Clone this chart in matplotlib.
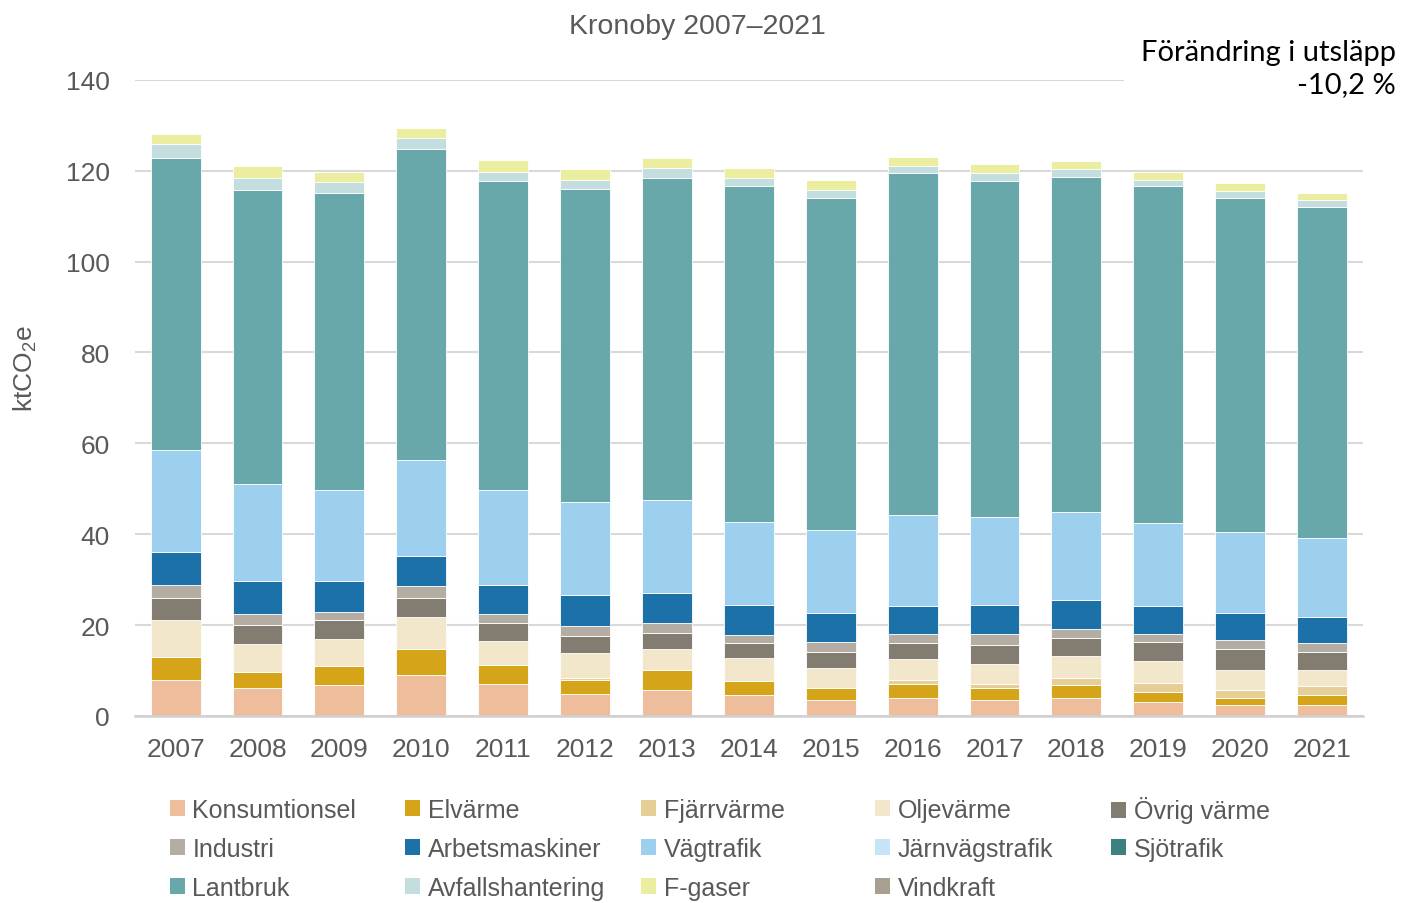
import matplotlib.pyplot as plt
from matplotlib.patches import Patch
import numpy as np

plt.rcParams['font.family'] = ['Liberation Sans', 'DejaVu Sans']
plt.rcParams['mathtext.fontset'] = 'custom'
plt.rcParams['mathtext.rm'] = 'Liberation Sans'

years = ['2007', '2008', '2009', '2010', '2011', '2012', '2013', '2014',
         '2015', '2016', '2017', '2018', '2019', '2020', '2021']

# ktCO2e per sektor
konsumtionsel = [7.9, 6.1, 6.7, 9.0, 7.0, 4.9, 5.8, 4.6, 3.5, 4.0, 3.5, 4.0, 3.1, 2.4, 2.4]
elvarme = [5.1, 3.6, 4.2, 5.7, 4.3, 3.0, 4.2, 3.0, 2.6, 3.0, 2.6, 2.7, 2.2, 1.6, 2.1]
fjarrvarme = [0, 0, 0, 0, 0, 0.5, 0, 0, 0, 0.9, 0.9, 1.7, 1.9, 1.8, 2.0]
oljevarme = [8.1, 6.1, 6.1, 7.0, 5.2, 5.4, 4.7, 5.1, 4.5, 4.6, 4.4, 4.7, 4.8, 4.3, 3.6]
ovrig_varme = [4.8, 4.2, 4.1, 4.3, 4.0, 3.7, 3.6, 3.4, 3.4, 3.6, 4.2, 4.1, 4.3, 4.6, 4.0]
industri = [3.0, 2.5, 1.8, 2.6, 2.0, 2.2, 2.1, 1.6, 2.3, 2.0, 2.5, 2.0, 1.7, 2.0, 2.0]
arbetsmaskiner = [7.2, 7.1, 6.9, 6.6, 6.4, 6.9, 6.6, 6.6, 6.4, 6.0, 6.2, 6.2, 6.1, 6.0, 5.7]
vagtrafik = [22.5, 21.5, 19.9, 21.2, 20.8, 20.5, 20.5, 18.4, 18.2, 20.1, 19.5, 19.5, 18.4, 17.8, 17.4]
jarnvagstrafik = [0] * 15
sjotrafik = [0] * 15
lantbruk = [64.2, 64.7, 65.3, 68.3, 68.1, 68.9, 71.0, 74.0, 73.2, 75.2, 74.0, 73.7, 74.2, 73.6, 72.8]
avfall = [3.0, 2.6, 2.6, 2.5, 2.0, 2.0, 2.0, 1.7, 1.7, 1.7, 1.6, 1.7, 1.3, 1.4, 1.5]
fgaser = [2.3, 2.6, 2.2, 2.2, 2.5, 2.3, 2.3, 2.1, 2.2, 2.0, 2.0, 1.8, 1.8, 1.8, 1.6]
vindkraft = [0] * 15

series = [
    ('Konsumtionsel', konsumtionsel, '#EEBE9C'),
    ('Elvärme', elvarme, '#D6A418'),
    ('Fjärrvärme', fjarrvarme, '#E6CF96'),
    ('Oljevärme', oljevarme, '#F2E7CB'),
    ('Övrig värme', ovrig_varme, '#837C70'),
    ('Industri', industri, '#B3ADA4'),
    ('Arbetsmaskiner', arbetsmaskiner, '#1C72A8'),
    ('Vägtrafik', vagtrafik, '#9DCFEE'),
    ('Järnvägstrafik', jarnvagstrafik, '#C5E4F6'),
    ('Sjötrafik', sjotrafik, '#3E7F80'),
    ('Lantbruk', lantbruk, '#69A8AA'),
    ('Avfallshantering', avfall, '#C4DEDF'),
    ('F-gaser', fgaser, '#EBEE9F'),
    ('Vindkraft', vindkraft, '#A99F90'),
]

grey = '#595959'
fig = plt.figure(figsize=(14.03, 9.04), dpi=100)
ax = fig.add_axes([0.096, 0.207, 0.8755, 0.7035])

x = np.arange(len(years))
bottom = np.zeros(len(years))
for name, vals, col in series:
    vals = np.array(vals, dtype=float)
    ax.bar(x, vals, 0.61, bottom=bottom, color=col, edgecolor='white',
           linewidth=0.6, zorder=3)
    bottom += vals

ax.set_xlim(-0.5, 14.5)
ax.set_ylim(0, 140)
ax.set_yticks(range(0, 141, 20))
ax.set_xticks(x)
ax.set_xticklabels(years)
ax.grid(axis='y', color='#D9D9D9', linewidth=1.5, zorder=0)
for s in ['top', 'right', 'left']:
    ax.spines[s].set_visible(False)
ax.spines['bottom'].set_color('#D0D0D0')
ax.spines['bottom'].set_linewidth(1.8)
ax.spines['bottom'].set_zorder(4)
ax.tick_params(axis='both', length=0, labelsize=19, colors=grey)
ax.tick_params(axis='y', pad=18)
ax.tick_params(axis='x', pad=15)

fig.text(0.0178, 0.592, r'ktCO$_\mathregular{2}$e', rotation=90,
         ha='center', va='center', fontsize=19, color=grey)

fig.text(0.497, 0.970, 'Kronoby 2007–2021', ha='center', va='center',
         fontsize=20.5, color=grey)

# rutan täcker översta stödlinjen till höger, som i originalet
fig.text(0.995, 0.924, 'Förändring i utsläpp\n-10,2 %', ha='right', va='center',
         multialignment='right', linespacing=1.3,
         fontsize=21, family=['Lato', 'DejaVu Sans'], color='black',
         bbox=dict(facecolor='white', edgecolor='none', pad=12), zorder=10)

# legenden i ett 5x3-rutnät, radvis
col_x = [0.121, 0.289, 0.457, 0.624, 0.792]
row_y = [1 - 811 / 904, 1 - 850 / 904, 1 - 889 / 904]
for i, (name, vals, col) in enumerate(series):
    r, c = divmod(i, 5)
    fig.legend([Patch(facecolor=col, edgecolor='none')], [name],
               loc='center left', bbox_to_anchor=(col_x[c], row_y[r]),
               frameon=False, fontsize=18, labelcolor=grey,
               handlelength=0.6, handleheight=0.6, handletextpad=0.3,
               borderaxespad=0, borderpad=0)

fig.savefig('out.png', dpi=100)
